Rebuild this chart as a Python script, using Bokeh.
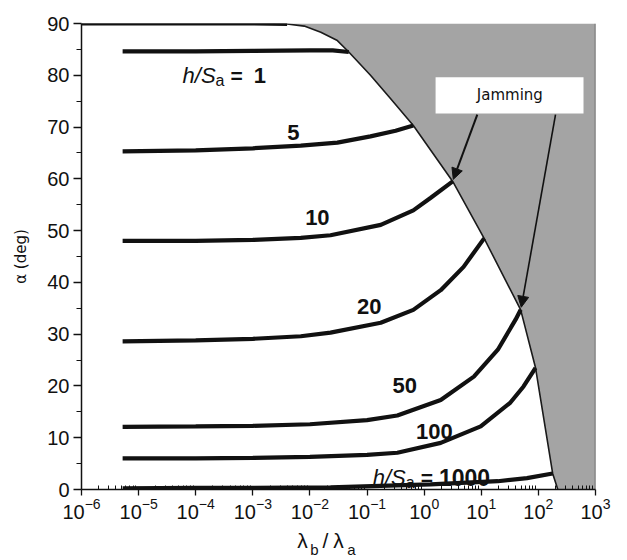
import numpy as np
from bokeh.plotting import figure
from bokeh.models import (FixedTicker, Label, BoxAnnotation, Arrow, NormalHead,
                          LinearAxis, Range1d, LinearScale)
from bokeh.embed import file_html
from bokeh.resources import INLINE

# ---------------- data ----------------
# log10(lambda_b/lambda_a) and alpha (deg) for each h/S_a curve
h1_logx = [-5.28, -4.0, -3.0, -2.0, -1.6, -1.32]
h1_alpha = [84.6, 84.6, 84.7, 84.8, 84.8, 84.5]
h5_logx = [-5.28, -4.0, -3.0, -2.16, -1.52, -0.94, -0.5, -0.19]
h5_alpha = [65.3, 65.5, 65.9, 66.4, 67.0, 68.2, 69.3, 70.3]
h10_logx = [-5.28, -4.0, -3.0, -2.16, -1.64, -0.76, -0.19, 0.11, 0.50]
h10_alpha = [48.0, 48.0, 48.2, 48.6, 49.1, 51.1, 53.9, 56.3, 59.5]
h20_logx = [-5.28, -4.0, -3.0, -2.16, -1.64, -0.76, -0.19, 0.29, 0.69, 1.05]
h20_alpha = [28.6, 28.8, 29.1, 29.6, 30.3, 32.2, 34.7, 38.5, 43.0, 48.5]
h50_logx = [-5.28, -4.0, -3.0, -2.0, -1.0, -0.47, 0.29, 0.87, 1.29, 1.60, 1.69]
h50_alpha = [12.1, 12.2, 12.3, 12.6, 13.4, 14.3, 17.3, 21.8, 27.0, 32.8, 34.7]
h100_logx = [-5.28, -4.0, -3.0, -2.0, -1.0, -0.47, 0.29, 0.99, 1.51, 1.74, 1.95]
h100_alpha = [6.0, 6.0, 6.1, 6.3, 6.7, 7.1, 9.0, 12.2, 16.8, 19.9, 23.5]
h1000_logx = [-5.28, -4.0, -3.0, -1.64, 0.11, 1.29, 1.8, 2.25]
h1000_alpha = [0.2, 0.3, 0.3, 0.4, 1.0, 1.6, 2.2, 3.1]

# jamming boundary
jam_logx = [-6.0, -3.0, -2.4, -2.1, -1.81, -1.52, -1.32, -0.94, -0.59, -0.19,
            0.50, 1.05, 1.69, 1.95, 2.25, 2.34]
jam_alpha = [90.0, 90.0, 89.9, 89.5, 88.3, 86.7, 84.5, 80.0, 75.5, 70.3,
             59.5, 48.5, 34.7, 23.5, 3.1, 0.0]

# curve labels (centres)
lab_text = ["5", "10", "20", "50", "100"]
lab_logx = [-2.29, -1.87, -0.96, -0.34, 0.18]
lab_alpha = [69.0, 52.6, 35.3, 20.0, 11.2]

x_ticks = [1e-6, 1e-5, 1e-4, 1e-3, 1e-2, 1e-1, 1e0, 1e1, 1e2, 1e3]
y_ticks = [0, 10, 20, 30, 40, 50, 60, 70, 80, 90]
y_minor = [5, 15, 25, 35, 45, 55, 65, 75, 85]

curves = [
    (h1_logx, h1_alpha), (h5_logx, h5_alpha), (h10_logx, h10_alpha),
    (h20_logx, h20_alpha), (h50_logx, h50_alpha), (h100_logx, h100_alpha),
    (h1000_logx, h1000_alpha),
]


def X(lx):
    return [10.0 ** v for v in lx]


FONT = "Liberation Sans"
FRAME_W = 514
p = figure(width=619, height=560, x_axis_type="log",
           x_range=(1e-6, 1e3), y_range=(0, 90),
           output_backend="svg", toolbar_location=None,
           min_border_left=81, min_border_right=24, min_border_top=23,
           min_border_bottom=70)
p.outline_line_color = None
p.grid.visible = False

# jamming region
px = X(jam_logx) + [1e3, 1e3]
py = jam_alpha + [0.0, 90.0]
p.patch(px, py, fill_color="#a4a4a4", line_color=None)
p.line(X(jam_logx), jam_alpha, line_color="#1a1a1a", line_width=1.6)
p.line(X(jam_logx[:3]), jam_alpha[:3], line_color="#111111", line_width=4)
p.line([1e3, 1e3], [0, 90], line_color="#555555", line_width=1.5)

for lx, al in curves:
    p.line(X(lx), al, line_color="#111111", line_width=4.2)

# axes
xa = p.xaxis[0]
minor_x = [m * t for t in x_ticks[:-1] for m in range(2, 10)]
xa.ticker = FixedTicker(ticks=x_ticks, minor_ticks=minor_x)
xa.major_tick_in = 0
xa.major_tick_out = 6
xa.minor_tick_in = 4
xa.minor_tick_out = 0
ya = p.yaxis[0]
ya.ticker = FixedTicker(ticks=y_ticks, minor_ticks=y_minor)
ya.major_tick_in = 0
ya.major_tick_out = 8
ya.minor_tick_in = 0
ya.minor_tick_out = 5
for ax in (xa, ya):
    ax.axis_line_width = 1.5
    ax.axis_line_color = "#111111"
    ax.major_tick_line_color = "#111111"
    ax.minor_tick_line_color = "#111111"
    ax.major_tick_line_width = 1.3
    ax.major_label_text_font = FONT
    ax.major_label_text_font_size = "20px"
    ax.major_label_text_color = "#111111"
    ax.major_label_standoff = 4
xa.major_label_standoff = 2
ya.axis_label = "α (deg)"
ya.axis_label_text_font = "DejaVu Sans"
ya.axis_label_text_font_size = "15px"
ya.axis_label_text_font_style = "normal"
ya.axis_label_text_color = "#111111"
ya.axis_label_standoff = 14

# x-axis title  λb/λa, built from two label-only axes (main glyphs + subscripts)
p.extra_x_ranges = {"px": Range1d(0, FRAME_W)}
p.extra_x_scales = {"px": LinearScale()}
main_pos = {221: "λ", 244: "/", 257: "λ"}
sub_pos = {233: "b", 270: "a"}
for pos, size, standoff in ((main_pos, "21px", 7), (sub_pos, "15px", -14)):
    ax = LinearAxis(x_range_name="px", ticker=FixedTicker(ticks=list(pos)),
                    major_label_overrides=pos, axis_line_color=None,
                    major_tick_line_color=None, minor_tick_line_color=None,
                    major_tick_out=0, major_tick_in=0,
                    major_label_standoff=standoff,
                    major_label_text_font=FONT,
                    major_label_text_font_size=size,
                    major_label_text_color="#111111")
    p.add_layout(ax, "below")

# width table (em) for composing rich labels
W_REG = {'h': .556, '/': .278, 'S': .667, 'a': .556, ' ': .278, '=': .584,
         '1': .556, '0': .556}
W_BOLD = {'h': .611, '/': .278, 'S': .667, 'a': .556, ' ': .278, '=': .584,
          '1': .556, '0': .556}


def rich(x, y, pieces):
    off = 0.0
    for text, size, style, dy, gap in pieces:
        table = W_BOLD if "bold" in style else W_REG
        off += gap
        p.add_layout(Label(x=x, y=y, x_offset=off, y_offset=dy, text=text,
                           text_font=FONT, text_font_size=f"{size}px",
                           text_font_style=style, text_color="#111111",
                           text_align="left", text_baseline="alphabetic"))
        off += sum(table.get(c, .556) for c in text) * size


rich(10 ** -4.23, 80.0, [("h/S", 22, "italic", 0, 0), ("a", 16, "normal", -5, 0),
                         ("=", 21, "bold", 0, 6), ("1", 22, "bold", 0, 11)])
rich(10 ** -0.90, 2.3, [("h/S", 22, "italic", 0, 0), ("a", 16, "normal", -5, 0),
                        ("=", 21, "bold", 0, 6), ("1000", 23, "bold", 0, 6)])

for t, lx, al in zip(lab_text, lab_logx, lab_alpha):
    p.add_layout(Label(x=10 ** lx, y=al, text=t, text_font=FONT,
                       text_font_size="22px", text_font_style="bold",
                       text_color="#111111", text_align="center",
                       text_baseline="middle"))

# Jamming box + arrows
p.add_layout(BoxAnnotation(left=10 ** 0.20, right=10 ** 2.79, bottom=72.6,
                           top=79.6, fill_color="white", fill_alpha=1.0,
                           line_color=None))
p.add_layout(Label(x=10 ** 1.5, y=76.1, text="Jamming", text_font="DejaVu Sans",
                   text_font_size="15px", text_color="#111111",
                   text_align="center", text_baseline="middle"))
p.add_layout(Arrow(x_start=10 ** 0.93, y_start=72.4, x_end=10 ** 0.51,
                   y_end=59.9, line_width=2, line_color="#111111",
                   end=NormalHead(size=11, fill_color="#111111",
                                  line_color="#111111")))
p.add_layout(Arrow(x_start=10 ** 2.30, y_start=72.4, x_end=10 ** 1.70,
                   y_end=35.2, line_width=1.6, line_color="#111111",
                   end=NormalHead(size=11, fill_color="#111111",
                                  line_color="#111111")))

open("out.html", "w").write(file_html(p, INLINE))
